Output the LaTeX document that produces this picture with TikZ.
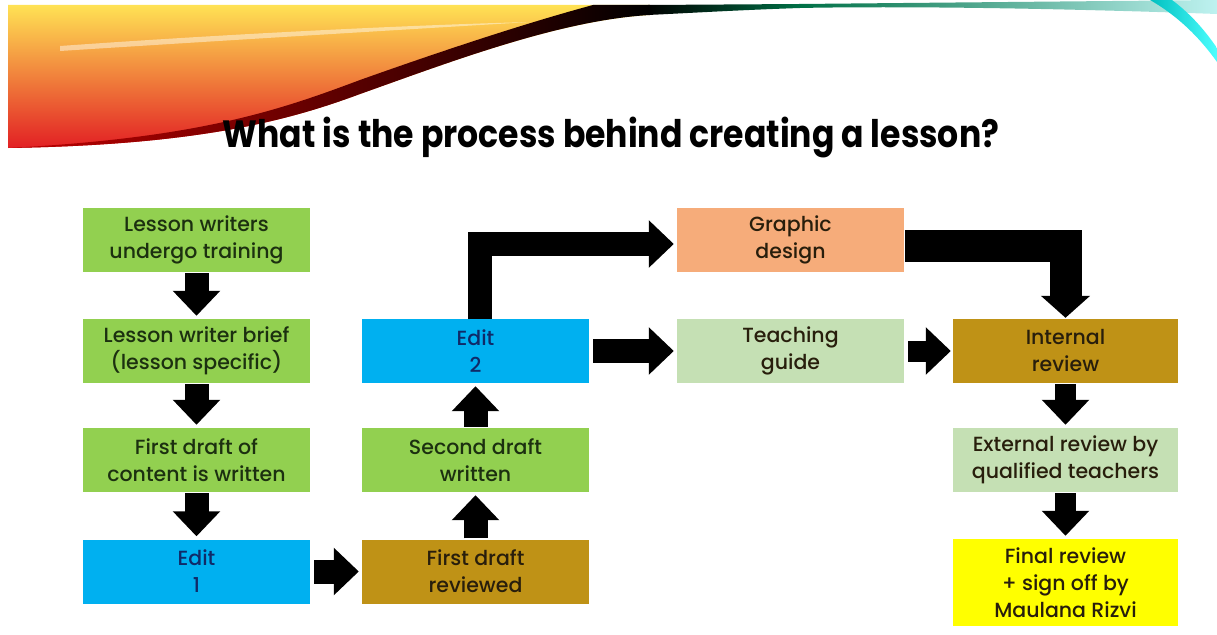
\documentclass[tikz,border=0pt]{standalone}
\usepackage{fontspec}
\setmainfont{Poppins}
\newfontfamily\titlefont[FakeStretch=0.87]{Poppins}
\newfontfamily\boxfont{Poppins Medium}
\usetikzlibrary{arrows.meta}

\definecolor{lgreen}{RGB}{146,208,80}
\definecolor{pale}{RGB}{197,224,180}
\definecolor{sky}{RGB}{0,176,240}
\definecolor{ochre}{RGB}{191,146,22}
\definecolor{salmon}{RGB}{246,172,122}
\definecolor{lemon}{RGB}{255,255,0}
\definecolor{gtext}{RGB}{28,48,16}
\definecolor{btext}{RGB}{16,42,104}
\definecolor{dtext}{RGB}{40,30,12}
\definecolor{swgreen}{RGB}{0,112,70}
\definecolor{swcyan}{RGB}{190,242,240}

\begin{document}
\begin{tikzpicture}[x=1pt,y=-1pt]
  \useasboundingbox (0,0) rectangle (1217,634);
  \tikzset{
    stepbox/.style={rectangle, minimum width=227pt, minimum height=64pt,
      inner sep=0pt, align=center, text=dtext,
      font=\boxfont\fontsize{20.5}{27}\selectfont},
    fat/.style={line width=24pt, line join=miter,
      -{Triangle[length=25pt,width=46pt]}, shorten <=1pt, shorten >=3pt},
  }

  % swoosh at the top
  \shade[top color={rgb,255:red,255;green,226;blue,84}, middle color={rgb,255:red,245;green,150;blue,30},
    bottom color={rgb,255:red,226;green,32;blue,36}]
    (8,5) -- (650,5) -- (650,15) .. controls (560,20) and (450,62) .. (360,94)
    .. controls (290,120) and (200,145) .. (8,148) -- cycle;
  \fill[white,opacity=0.45] (60,46) .. controls (200,36) and (380,26) .. (530,22)
    .. controls (380,31) and (200,42) .. (60,51) -- cycle;
  \shade[left color=red!75!black, middle color=black!85!red, right color=black]
    (8,148) .. controls (200,138) and (280,110) .. (360,80)
    .. controls (450,48) and (530,22) .. (593,5) -- (650,5) -- (650,15)
    .. controls (560,20) and (450,62) .. (360,94)
    .. controls (290,120) and (200,145) .. (8,148) -- cycle;
  \shade[left color=black, right color=swgreen]
    (648,5) -- (800,4) -- (800,8) .. controls (740,10) and (690,13) .. (648,15) -- cycle;
  \shade[left color=swgreen, right color=swcyan]
    (799,4) -- (1217,0) -- (1217,14) .. controls (1050,8) and (900,6) .. (799,8) -- cycle;
  \shade[left color=cyan!50!teal, right color=cyan!70!white]
    (1150,0) -- (1172,0) .. controls (1192,15) and (1206,32) .. (1217,48)
    -- (1217,62) .. controls (1200,38) and (1178,16) .. (1150,0);

  \node[anchor=base] (title) at (611,147)
    {\titlefont\bfseries\fontsize{38}{40}\selectfont What is the process behind creating a lesson?};

  % first column
  \node[stepbox,fill=lgreen,text=gtext] (a_1) at (196.5,240) {Lesson writers\\undergo training};
  \node[stepbox,fill=lgreen,text=gtext] (a_2) at (196.5,351) {Lesson writer brief\\(lesson specific)};
  \node[stepbox,fill=lgreen,text=gtext] (a_3) at (196.5,460) {First draft of\\content is written};
  \node[stepbox,fill=sky,text=btext] (a_4) at (196.5,571.5) {Edit\\1};

  % second column
  \node[stepbox,fill=ochre] (b_1) at (475.5,571.5) {First draft\\reviewed};
  \node[stepbox,fill=lgreen,text=gtext] (b_2) at (475.5,460) {Second draft\\written};
  \node[stepbox,fill=sky,text=btext] (b_3) at (475.5,351) {Edit\\2};

  % third column
  \node[stepbox,fill=salmon] (c_1) at (790.5,240) {Graphic\\design};
  \node[stepbox,fill=pale] (c_2) at (790.5,351) {Teaching\\guide};

  % last column
  \node[stepbox,fill=ochre,minimum width=225pt] (d_1) at (1065.5,351) {Internal\\review};
  \node[stepbox,fill=pale,minimum width=225pt] (d_2) at (1065.5,460) {External review by\\qualified teachers};
  \node[stepbox,fill=lemon,minimum width=225pt,minimum height=87pt] (d_3) at (1065.5,582.5)
    {Final review\\+ sign off by\\Maulana Rizvi};

  % block arrows
  \draw[fat] (a_1) -- (a_2);
  \draw[fat] (a_2) -- (a_3);
  \draw[fat] (a_3) -- (a_4);
  \draw[fat,shorten <=4pt] (a_4) -- (b_1);
  \draw[fat] (b_1) -- (b_2);
  \draw[fat] (b_2) -- (b_3);
  \draw[fat,shorten <=0pt] ([xshift=4pt]b_3.north) |- ([yshift=-4pt]c_1.west);
  \draw[fat,shorten <=4pt] (b_3) -- (c_2);
  \draw[fat,line width=21pt,shorten <=4pt,shorten >=2pt] (c_2) -- (d_1);
  \draw[fat,line width=32pt,shorten >=1pt,-{Triangle[length=22pt,width=48pt]}]
    ([yshift=-6pt]c_1.east) -| (d_1.north);
  \draw[fat,line width=21pt] (d_1) -- (d_2);
  \draw[fat,line width=21pt] (d_2) -- (d_3);
\end{tikzpicture}
\end{document}
